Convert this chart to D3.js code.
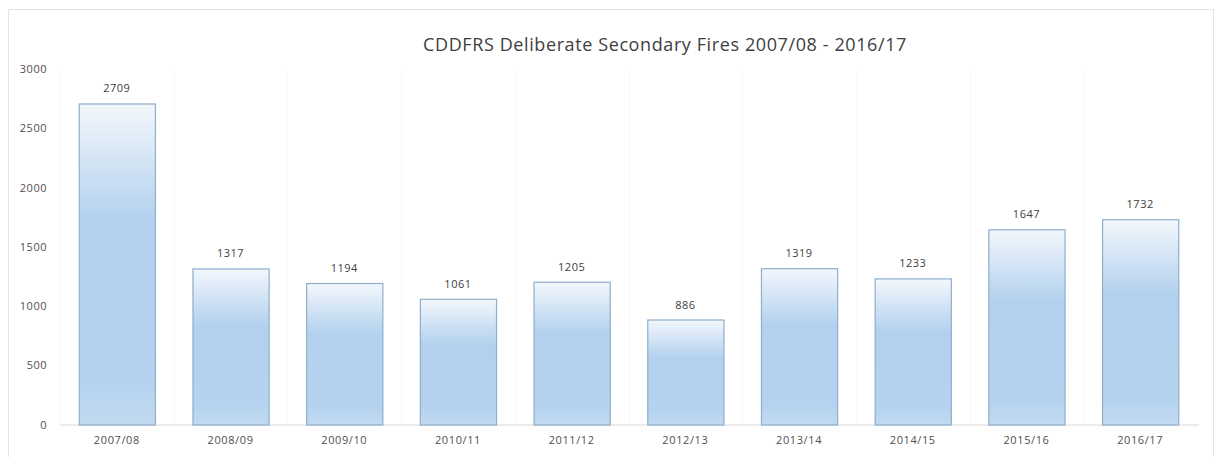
<!DOCTYPE html>
<html>
<head>
<meta charset="utf-8">
<script src="https://cdn.jsdelivr.net/npm/d3@7"></script>
<style>
  html, body { margin: 0; padding: 0; background: #fff; }
  svg { display: block; }
</style>
</head>
<body>
<svg id="chart" width="1218" height="457"></svg>
<script>
// Deliberate secondary fires per financial year
const years = ["2007/08","2008/09","2009/10","2010/11","2011/12","2012/13","2013/14","2014/15","2015/16","2016/17"];
const fires = [2709, 1317, 1194, 1061, 1205, 886, 1319, 1233, 1647, 1732];
const yTicks = [0, 500, 1000, 1500, 2000, 2500, 3000];
const title = "CDDFRS Deliberate Secondary Fires 2007/08 - 2016/17";

const svg = d3.select("#chart");
const W = 1218, H = 457;
const font = "'Open Sans', 'Liberation Sans', sans-serif";

// chart frame
svg.append("rect")
  .attr("x", 8.5).attr("y", 9.5)
  .attr("width", 1205).attr("height", H)
  .attr("fill", "#fff")
  .attr("stroke", "#e4e4e4");

const margin = { left: 60, right: 1197, top: 69, bottom: 424.5 };

const x = d3.scaleBand()
  .domain(years)
  .range([margin.left, margin.right])
  .paddingInner(0.33)
  .paddingOuter(0.165);

const y = d3.scaleLinear()
  .domain([0, 3000])
  .range([margin.bottom, margin.top]);

// gradient fill used by each bar
const defs = svg.append("defs");
const grad = defs.append("linearGradient")
  .attr("id", "barFill")
  .attr("x1", 0).attr("y1", 0).attr("x2", 0).attr("y2", 1);
grad.append("stop").attr("offset", "0%").attr("stop-color", "#f3f7fc");
grad.append("stop").attr("offset", "36%").attr("stop-color", "#b3d1ee");
grad.append("stop").attr("offset", "88%").attr("stop-color", "#b5d3ef");
grad.append("stop").attr("offset", "100%").attr("stop-color", "#c3daf1");

// faint category separators
const step = x.step();
svg.append("g")
  .selectAll("line")
  .data(years)
  .join("line")
  .attr("x1", d => Math.round(x(d) - x.padding() * step / 2) + 0.5)
  .attr("x2", d => Math.round(x(d) - x.padding() * step / 2) + 0.5)
  .attr("y1", margin.top)
  .attr("y2", margin.bottom)
  .attr("stroke", "#fdf9f2");

// y axis labels
const yAxis = d3.axisLeft(y).tickValues(yTicks).tickFormat(d3.format("d")).tickSize(0).tickPadding(0);
const gy = svg.append("g")
  .attr("transform", `translate(${47},0)`)
  .call(yAxis);
gy.select(".domain").remove();
gy.selectAll("text")
  .attr("font-family", font)
  .attr("font-size", 11)
  .attr("letter-spacing", 0.5)
  .attr("fill", "#505050");

// baseline
svg.append("line")
  .attr("x1", margin.left).attr("x2", margin.right + 2)
  .attr("y1", y(0) + 0.5).attr("y2", y(0) + 0.5)
  .attr("stroke", "#d9d9d9");

// bars
svg.append("g")
  .selectAll("rect")
  .data(fires)
  .join("rect")
  .attr("x", (d, i) => x(years[i]) + 0.5)
  .attr("y", d => y(d) + 0.5)
  .attr("width", x.bandwidth())
  .attr("height", d => y(0) - y(d))
  .attr("fill", "url(#barFill)")
  .attr("stroke", "#8eaecb")
  .attr("stroke-width", 1.2);

// value labels
svg.append("g")
  .selectAll("text")
  .data(fires)
  .join("text")
  .attr("x", (d, i) => x(years[i]) + x.bandwidth() / 2)
  .attr("y", d => y(d) - 11)
  .attr("text-anchor", "middle")
  .attr("font-family", font)
  .attr("font-size", 11)
  .attr("letter-spacing", 0.5)
  .attr("fill", "#404040")
  .text(d => d);

// category axis labels
const xAxis = d3.axisBottom(x).tickSize(0).tickPadding(0);
const gx = svg.append("g")
  .attr("transform", `translate(0,${y(0) + 12})`)
  .call(xAxis);
gx.select(".domain").remove();
gx.selectAll("text")
  .attr("font-family", font)
  .attr("font-size", 11)
  .attr("letter-spacing", 0.6)
  .attr("fill", "#505050");

// title
svg.append("text")
  .attr("x", 665)
  .attr("y", 51)
  .attr("text-anchor", "middle")
  .attr("font-family", font)
  .attr("font-size", 18)
  .attr("letter-spacing", 0.6)
  .attr("fill", "#404040")
  .text(title);
</script>
</body>
</html>
